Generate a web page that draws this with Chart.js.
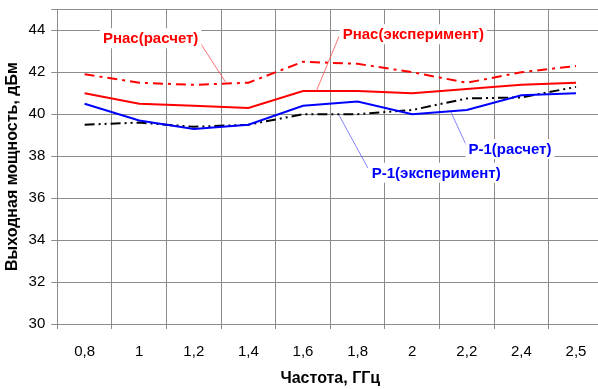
<!DOCTYPE html>
<html>
<head>
<meta charset="utf-8">
<script src="https://cdn.jsdelivr.net/npm/chart.js@4"></script>
<style>
  html, body { margin: 0; padding: 0; overflow: hidden; background: #fff; }
</style>
</head>
<body>
<canvas id="chart" width="610" height="389"></canvas>
<script>
'use strict';

// frequency, GHz
let frequencies = ['0,8', '1', '1,2', '1,4', '1,6', '1,8', '2', '2,2', '2,4', '2,5'];

// output power, dBm
let pnasCalc = [41.9, 41.5, 41.4, 41.5, 42.5, 42.4, 42.0, 41.5, 42.0, 42.3];
let pnasExp = [41.0, 40.5, 40.4, 40.3, 41.1, 41.1, 41.0, 41.2, 41.4, 41.5];
let p1Calc = [40.5, 39.7, 39.3, 39.5, 40.4, 40.6, 40.0, 40.2, 40.9, 41.0];
let p1Exp = [39.5, 39.6, 39.4, 39.5, 40.0, 40.0, 40.2, 40.75, 40.8, 41.3];

let yTicks = [30, 32, 34, 36, 38, 40, 42, 44];

// callouts: text centre and leader line in (category index, dBm)
let notes = [
  { text: 'Рнас(расчет)', color: '#ff0000', lead: 'rgba(255,80,80,0.8)', x: 1.21, y: 43.62, fx: 2.11, fy: 43.43, tx: 2.58, ty: 41.54 },
  { text: 'Рнас(эксперимент)', color: '#ff0000', lead: 'rgba(255,80,80,0.8)', x: 6.02, y: 43.81, fx: 4.66, fy: 43.71, tx: 4.25, ty: 41.14 },
  { text: 'P-1(расчет)', color: '#0000ff', lead: 'rgba(100,100,255,0.8)', x: 7.79, y: 38.33, fx: 6.99, fy: 38.52, tx: 6.71, ty: 40.1 },
  { text: 'P-1(эксперимент)', color: '#0000ff', lead: 'rgba(100,100,255,0.8)', x: 6.44, y: 37.21, fx: 5.19, fy: 37.43, tx: 4.66, ty: 39.95 }
];

const gridColor = '#8c8c8c';
const family = '"Liberation Sans", Arial, sans-serif';

let calloutPlugin = {
  id: 'callouts',
  afterDatasetsDraw(chart) {
    const ctx = chart.ctx;
    const xs = chart.scales.x;
    const ys = chart.scales.y;
    const px = v => xs.getPixelForValue(0) + v * (xs.getPixelForValue(1) - xs.getPixelForValue(0));
    ctx.save();
    ctx.font = 'bold 15px ' + family;
    ctx.textAlign = 'center';
    ctx.textBaseline = 'middle';
    for (let i = 0; i < notes.length; i++) {
      let n = notes[i];
      ctx.strokeStyle = n.lead;
      ctx.lineWidth = 1;
      ctx.beginPath();
      ctx.moveTo(px(n.fx), ys.getPixelForValue(n.fy));
      ctx.lineTo(px(n.tx), ys.getPixelForValue(n.ty));
      ctx.stroke();
      let cx = px(n.x);
      let cy = ys.getPixelForValue(n.y);
      let w = ctx.measureText(n.text).width;
      ctx.fillStyle = '#fff';
      ctx.fillRect(cx - w / 2 - 3, cy - 10, w + 6, 20);
      ctx.fillStyle = n.color;
      ctx.fillText(n.text, cx, cy + 1);
    }
    ctx.restore();
  }
};

const ctx = document.getElementById('chart');

let config = {
  type: 'line',
  data: {
    labels: frequencies,
    datasets: [
      {
        label: 'Рнас(расчет)',
        data: pnasCalc,
        borderColor: '#ff0000',
        borderWidth: 2,
        borderDash: [10, 5, 3, 5],
        pointRadius: 0,
        tension: 0
      },
      {
        label: 'Рнас(эксперимент)',
        data: pnasExp,
        borderColor: '#ff0000',
        borderWidth: 2,
        pointRadius: 0,
        tension: 0
      },
      {
        label: 'P-1(расчет)',
        data: p1Calc,
        borderColor: '#0000ff',
        borderWidth: 2,
        pointRadius: 0,
        tension: 0
      },
      {
        label: 'P-1(эксперимент)',
        data: p1Exp,
        borderColor: '#000000',
        borderWidth: 2,
        borderDash: [10, 4, 2, 4, 2, 4],
        pointRadius: 0,
        tension: 0
      }
    ]
  },
  options: {
    responsive: false,
    animation: false,
    layout: { padding: { top: 9.3, right: 6.7, left: 0, bottom: 0 } },
    plugins: {
      legend: { display: false },
      tooltip: { enabled: false }
    },
    scales: {
      x: {
        offset: true,
        grid: { offset: true, color: gridColor, lineWidth: 1, tickLength: 5 },
        border: { color: gridColor },
        ticks: {
          color: '#000',
          padding: 14,
          maxRotation: 0,
          font: { family: family, size: 15 }
        },
        title: {
          display: true,
          text: 'Частота, ГГц',
          color: '#000',
          padding: { top: 0, bottom: 1 },
          font: { family: family, size: 16, weight: 'bold' }
        },
        afterFit(scale) {
          scale.height = 65;
          scale.paddingLeft = 0;
          scale.paddingRight = 0;
        }
      },
      y: {
        min: 30,
        max: 45,
        grid: { color: gridColor, lineWidth: 1, tickLength: 6 },
        border: { color: gridColor },
        afterBuildTicks(scale) {
          scale.ticks = yTicks.map(v => ({ value: v })).concat([{ value: 45 }]);
        },
        ticks: {
          color: '#000',
          padding: 6,
          font: { family: family, size: 15 },
          callback: v => (yTicks.includes(v) ? v : '')
        },
        title: {
          display: true,
          text: 'Выходная мощность, дБм',
          color: '#000',
          padding: { top: 3, bottom: 0 },
          font: { family: family, size: 16, weight: 'bold' }
        },
        afterFit(scale) {
          scale.width = 57.3;
          scale.paddingTop = 0;
          scale.paddingBottom = 0;
        }
      }
    }
  },
  plugins: [calloutPlugin]
};

// eslint-disable-next-line no-undef
new Chart(ctx, config);
</script>
</body>
</html>
